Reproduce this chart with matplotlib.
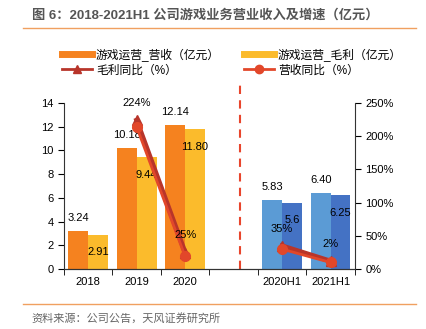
import numpy as np
import matplotlib
matplotlib.use('Agg')
from matplotlib import pyplot as plt
from matplotlib.lines import Line2D

plt.rcParams['font.family'] = ['Liberation Sans', 'Noto Sans CJK SC', 'DejaVu Sans']

###############################################################################
# Data
###############################################################################
categories = ['2018', '2019', '2020', '', '2020H1', '2021H1']
revenue = [3.24, 10.18, 12.14, None, 5.83, 6.40]      # 营收
gross = [2.91, 9.44, 11.80, None, 5.6, 6.25]          # 毛利
rev_labels = ['3.24', '10.18', '12.14', '', '5.83', '6.40']
gross_labels = ['2.91', '9.44', '11.80', '', '5.6', '6.25']

# yoy growth, %
gm_yoy_idx = [1, 2]
gm_yoy = [224, 25]
rev_yoy_idx = [1, 2]
rev_yoy = [214, 19]
gm_yoy_h1_idx = [4, 5]
gm_yoy_h1 = [35, 12]
rev_yoy_h1_idx = [4, 5]
rev_yoy_h1 = [30, 10]
gm_yoy_labels = ['224%', '25%']
gm_yoy_h1_labels = ['35%', '2%']

C_ORANGE = '#F5821F'
C_YELLOW = '#FBBB2C'
C_LBLUE = '#5B9BD5'
C_DBLUE = '#4472C4'
C_GM = '#B8352A'
C_REV = '#E2472A'

###############################################################################
# Figure
###############################################################################
fig = plt.figure(figsize=(4.26, 3.29), dpi=100)
ax = fig.add_axes([0.150, 0.182, 0.683, 0.505])
ax2 = ax.twinx()

x = np.arange(len(categories))
w = 0.41
for i in range(len(categories)):
    if revenue[i] is None:
        continue
    c1, c2 = (C_ORANGE, C_YELLOW) if i < 3 else (C_LBLUE, C_DBLUE)
    ax.bar(x[i] - w / 2, revenue[i], w, color=c1, zorder=2)
    ax.bar(x[i] + w / 2, gross[i], w, color=c2, zorder=2)
    ax.text(x[i] - w / 2, revenue[i] + 1.1, rev_labels[i], ha='center', va='center', fontsize=8)
    ax.text(x[i] + w / 2, gross[i] - 1.5, gross_labels[i], ha='center', va='center', fontsize=8)

ax.set_ylim(0, 14)
ax.set_yticks(range(0, 15, 2))
ax.set_xlim(-0.5, 5.5)
ax.set_xticks(x)
ax.set_xticklabels(categories)
ax.set_xticks(np.arange(-0.5, 6, 1), minor=True)
ax.tick_params(axis='x', which='major', length=0, pad=6, labelsize=8)
ax.tick_params(axis='x', which='minor', length=4, direction='out')
ax.tick_params(axis='y', labelsize=8, length=4, direction='out')

# growth lines on the right axis
ax2.plot(gm_yoy_idx, gm_yoy, color=C_GM, lw=3.5, marker='^', ms=7, zorder=3)
ax2.plot(rev_yoy_idx, rev_yoy, color=C_REV, lw=2, marker='o', ms=7, zorder=4)
ax2.plot(gm_yoy_h1_idx, gm_yoy_h1, color=C_GM, lw=3.5, marker='^', ms=7, zorder=3)
ax2.plot(rev_yoy_h1_idx, rev_yoy_h1, color=C_REV, lw=2, marker='o', ms=7, zorder=4)
for xi, v, lab in zip(gm_yoy_idx + gm_yoy_h1_idx, gm_yoy + gm_yoy_h1, gm_yoy_labels + gm_yoy_h1_labels):
    ax2.text(xi, v + 26, lab, ha='center', va='center', fontsize=8, zorder=5)

ax2.set_ylim(0, 250)
ax2.set_yticks(range(0, 251, 50))
ax2.set_yticklabels(['%d%%' % v for v in range(0, 251, 50)])
ax2.tick_params(axis='y', labelsize=8, length=4, direction='out')

for a in (ax, ax2):
    a.spines['top'].set_visible(False)
    a.spines['left'].set_color('#333333')
    a.spines['right'].set_color('#333333')
    a.spines['bottom'].set_color('#333333')
ax.spines['right'].set_visible(False)
ax2.spines['left'].set_visible(False)

# dashed separator between annual and half-year data
ax.axvline(3.13, ymin=0, ymax=1.12, color='#E8452C', ls=(0, (4, 3)), lw=1.5, clip_on=False, zorder=1)

###############################################################################
# Legend (column-wise fill: col 1 = 营收, 毛利同比; col 2 = 毛利, 营收同比)
###############################################################################
handles = [Line2D([], [], color=C_ORANGE, lw=5),
           Line2D([], [], color=C_GM, lw=2, marker='^', ms=6),
           Line2D([], [], color=C_YELLOW, lw=5),
           Line2D([], [], color=C_REV, lw=2, marker='o', ms=6)]
labels = ['游戏运营_营收（亿元）', '毛利同比（%）', '游戏运营_毛利（亿元）', '营收同比（%）']
fig.legend(handles, labels, ncol=2, loc='center left', bbox_to_anchor=(0.12, 0.81),
           frameon=False, fontsize=8.5, handlelength=2.6, columnspacing=2.0,
           handletextpad=0.3, labelspacing=0.25)

###############################################################################
# Title / footer
###############################################################################
fig.text(0.075, 0.952, '图 6：2018-2021H1 公司游戏业务营业收入及增速（亿元）', fontsize=9.5,
         fontweight='bold', color='#555555', va='center', ha='left')
fig.add_artist(Line2D([0.054, 0.977], [0.915, 0.915], color='#F0A060', lw=1))
fig.add_artist(Line2D([0.054, 0.977], [0.076, 0.076], color='#F0A060', lw=1))
fig.text(0.075, 0.033, '资料来源：公司公告，天风证券研究所', fontsize=8, color='#666666',
         va='center', ha='left')

fig.savefig('out.png', dpi=100)
